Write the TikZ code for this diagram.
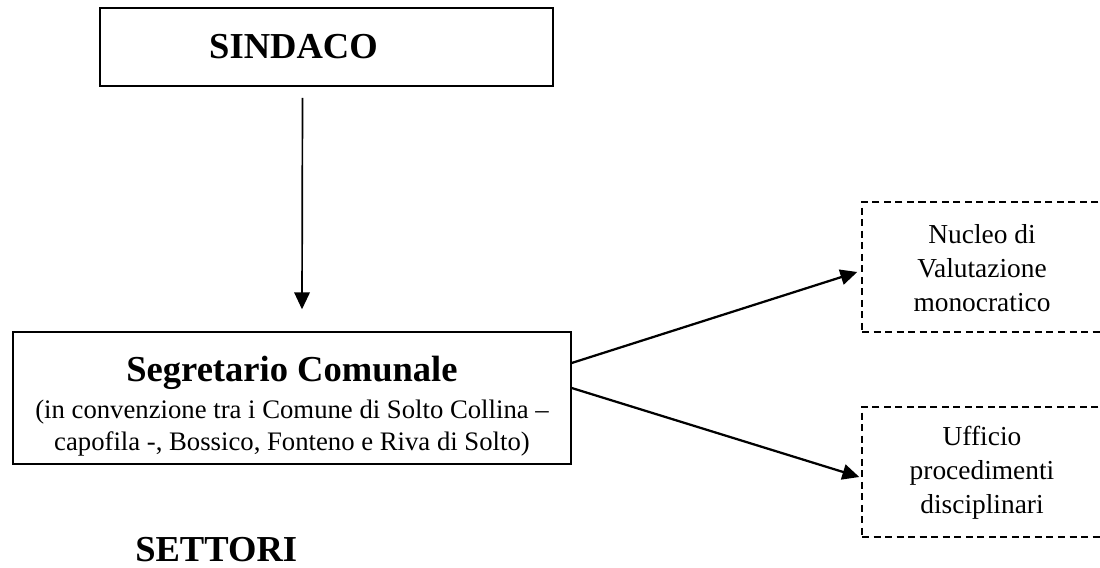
\documentclass[tikz,border=0pt]{standalone}
\usepackage{fontspec}
\setmainfont{Liberation Serif}
\usepackage{xcolor}
\usepackage{tikz}
\usetikzlibrary{shapes,arrows,arrows.meta,positioning,calc}

\tikzset{
    solidbox/.style={draw, line width=1pt, inner sep=0pt, align=center},
    dashbox/.style={draw, dash pattern=on 5pt off 3.2pt, line width=1pt, inner sep=0pt},
    boxtext/.style={align=center, inner sep=0pt, font=\fontsize{19.5}{24}\selectfont},
    linkarrow/.style={line width=1.6pt, -{Triangle[length=12pt,width=11pt]}}
}

\begin{document}
\begin{tikzpicture}
                \useasboundingbox (0,0) rectangle (27.5,14.2);

                \node[
                    solidbox,
                    minimum width=11.325cm,
                    minimum height=1.95cm,
                    font=\fontsize{26}{30}\selectfont\bfseries
                ] (sindaco) at (8.1625,13.025) {SINDACO\hspace*{1.65cm}};

                \node[
                    solidbox,
                    minimum width=13.95cm,
                    minimum height=3.3cm,
                    font=\fontsize{19}{23}\selectfont
                ] (segretario) at (7.3,4.25) {{\fontsize{26}{30}\selectfont\bfseries\rule{0pt}{30pt}Segretario Comunale}\\[3pt]
                    (in convenzione tra i Comune di Solto Collina –\\
                    capofila -, Bossico, Fonteno e Riva di Solto)};

                % dashed boxes on the right, cut by the page edge
                \node[
                    dashbox,
                    minimum width=6.95cm,
                    minimum height=3.25cm
                ] (nucleobox) at (25.025,7.525) {};
                \node[boxtext] (nucleo) at (24.55,7.5) {Nucleo di\\Valutazione\\monocratico};

                \node[
                    dashbox,
                    minimum width=6.95cm,
                    minimum height=3.25cm
                ] (ufficiobox) at (25.025,2.4) {};
                \node[boxtext] (ufficio) at (24.55,2.375) {Ufficio\\procedimenti\\disciplinari};

                \node[
                    anchor=base west,
                    inner sep=0pt,
                    font=\fontsize{26}{30}\selectfont\bfseries
                ] (settori) at (3.375,0.15) {SETTORI};

                \draw[linkarrow, line width=1.2pt] ($(sindaco.south)+(-0.6,-0.28)$) -- ($(segretario.north)+(0.25,0.55)$);
                \draw[linkarrow] ($(segretario.east)+(0,0.875)$) -- ($(nucleobox.west)+(-0.1,-0.125)$);
                \draw[linkarrow] ($(segretario.east)+(0,0.25)$) -- ($(ufficiobox.west)+(-0.05,-0.125)$);

            \end{tikzpicture}
\end{document}
